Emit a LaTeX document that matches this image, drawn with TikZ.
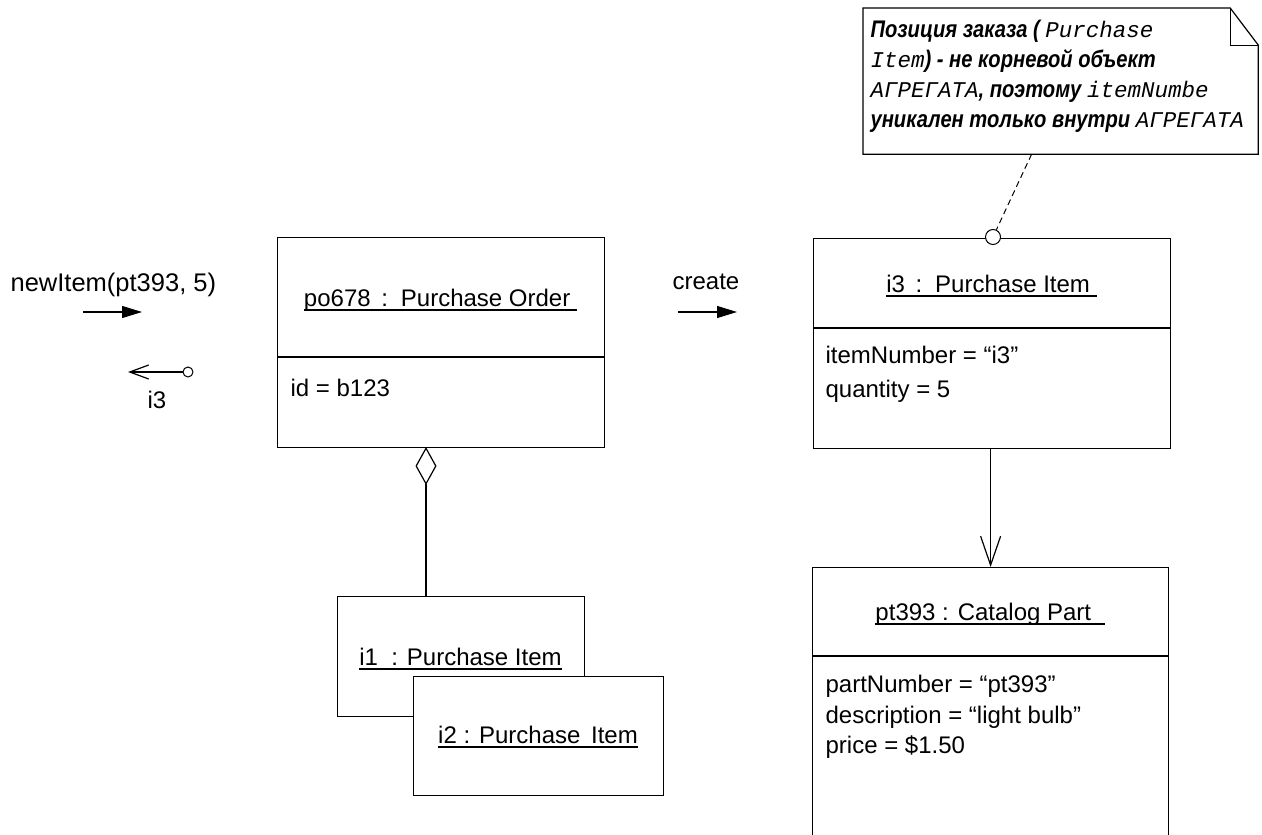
\documentclass[tikz,border=0pt]{standalone}
\usepackage{fontspec}
\usepackage{graphicx}
\setmainfont{Liberation Sans}
\setmonofont{Liberation Mono}
\usetikzlibrary{arrows.meta}
\newcommand{\ulin}[1]{\setbox0\hbox{#1}\rlap{\rule[-4.5pt]{\wd0}{1.4pt}}\box0}
\newcommand{\nmono}[1]{{\fontsize{22.5}{30}\selectfont\ttfamily\itshape\mdseries #1}}
\newcommand{\nbi}[1]{\scalebox{0.84}[1]{\fontsize{24}{30}\selectfont\bfseries\itshape #1}}
\begin{document}
\begin{tikzpicture}[x=1pt,y=-1pt,line width=1.2pt,
  objbox/.style={draw,rectangle,inner sep=0pt,anchor=north west,fill=white},
  lbl/.style={font=\fontsize{24}{32}\selectfont,inner sep=0pt},
  attr/.style={lbl,anchor=base west},
  ttl/.style={lbl,anchor=base},
  notetxt/.style={inner sep=0pt,anchor=base west},
  msg/.style={-{Triangle[length=20pt,width=12pt]}},
  ret/.style={-{Straight Barb[length=19pt,width=14pt]}},
  nav/.style={-{Straight Barb[length=29pt,width=20pt]}},
  aggr/.style={{Diamond[open,length=38pt,width=21pt]}-},
  lollipop/.style={draw,circle,fill=white,inner sep=0pt,line width=1pt}
]
\useasboundingbox (0,0) rectangle (1262,835);
\clip (0,0) rectangle (1262,835);
\fill[white] (0,0) rectangle (1262,835);

% note
\node[inner sep=0pt,minimum width=394pt,minimum height=145pt,anchor=north west] (note) at (863,8) {};
\draw (note.north west) -- ([xshift=-28pt]note.north east) -- ([yshift=-37pt]note.north east)
      -- (note.south east) -- (note.south west) -- cycle;
\draw[line width=0.8pt] ([xshift=-28pt]note.north east) |- ([yshift=-37pt]note.north east);
\node[notetxt] (n1) at (870,37) {\nbi{Позиция заказа ( }\nmono{Purchase}};
\node[notetxt] (n2) at (870,67) {\nmono{Item}\nbi{) - не корневой объект}};
\node[notetxt] (n3) at (870,97) {\nmono{АГРЕГАТА}\nbi{, поэтому }\nmono{itemNumbe}};
\node[notetxt] (n4) at (870,127) {\nbi{уникален только внутри }\nmono{АГРЕГАТА}};

% po678
\node[objbox,minimum width=327pt,minimum height=210pt] (po) at (277,237) {};
\draw (277,357) -- (604,357);
\node[ttl] (poT) at (440.5,306) {\ulin{po678 \,: \,Purchase Order\ }};
\node[attr] (poA) at (290,396) {id = b123};

% i1 / i2
\node[objbox,minimum width=247pt,minimum height=120pt] (i1) at (337,596) {};
\node[ttl] (i1T) at (460.5,665) {\ulin{i1 \ : Purchase Item}};
\node[objbox,minimum width=250pt,minimum height=119pt] (i2) at (413,676) {};
\node[ttl] (i2T) at (538,743) {\ulin{i2 : Purchase \,Item}};

% aggregation
\coordinate (ag) at (426,447);
\draw[aggr] (ag) -- (ag |- i1.north);

% i3
\node[objbox,minimum width=357pt,minimum height=210pt] (i3) at (813,238) {};
\draw (813,328) -- (1170,328);
\node[ttl] (i3T) at (991.5,292) {\ulin{i3 \,: \,Purchase Item\ }};
\node[attr] (i3A1) at (825,363) {itemNumber = “i3”};
\node[attr] (i3A2) at (825,397) {quantity = 5};
\node[lollipop,minimum size=15pt] (anc) at (993,237) {};
\draw[line width=1pt,dash pattern=on 6pt off 4pt] ([xshift=-29pt]note.south) -- (anc);

% pt393
\node[objbox,minimum width=356pt,minimum height=290pt] (pt) at (812,567) {};
\draw (812,656) -- (1168,656);
\node[ttl] (ptT) at (990,620) {\ulin{pt393 : Catalog Part\ \ }};
\node[attr] (ptA1) at (825,692) {partNumber = “pt393”};
\node[attr] (ptA2) at (825,723) {description = “light bulb”};
\node[attr] (ptA3) at (825,753) {price = \$1.50};

\draw[nav] (i3.south -| pt.north) -- (pt.north);

% messages
\node[lbl,anchor=base west,font=\fontsize{25.5}{32}\selectfont] (m1) at (10,291) {newItem(pt393, 5)};
\coordinate (m1s) at (83,312);
\coordinate (m1e) at (142,312);
\draw[msg] (m1s) -- (m1e);
\node[lollipop,minimum size=10pt] (rc) at (188,372) {};
\coordinate (r1e) at (128,372);
\draw[ret] (rc) -- (r1e);
\node[lbl,anchor=base] (r1) at (157,408) {i3};

\node[lbl,anchor=base west] (m2) at (672,289) {create};
\coordinate (m2s) at (678,312);
\coordinate (m2e) at (737,312);
\draw[msg] (m2s) -- (m2e);
\end{tikzpicture}
\end{document}
